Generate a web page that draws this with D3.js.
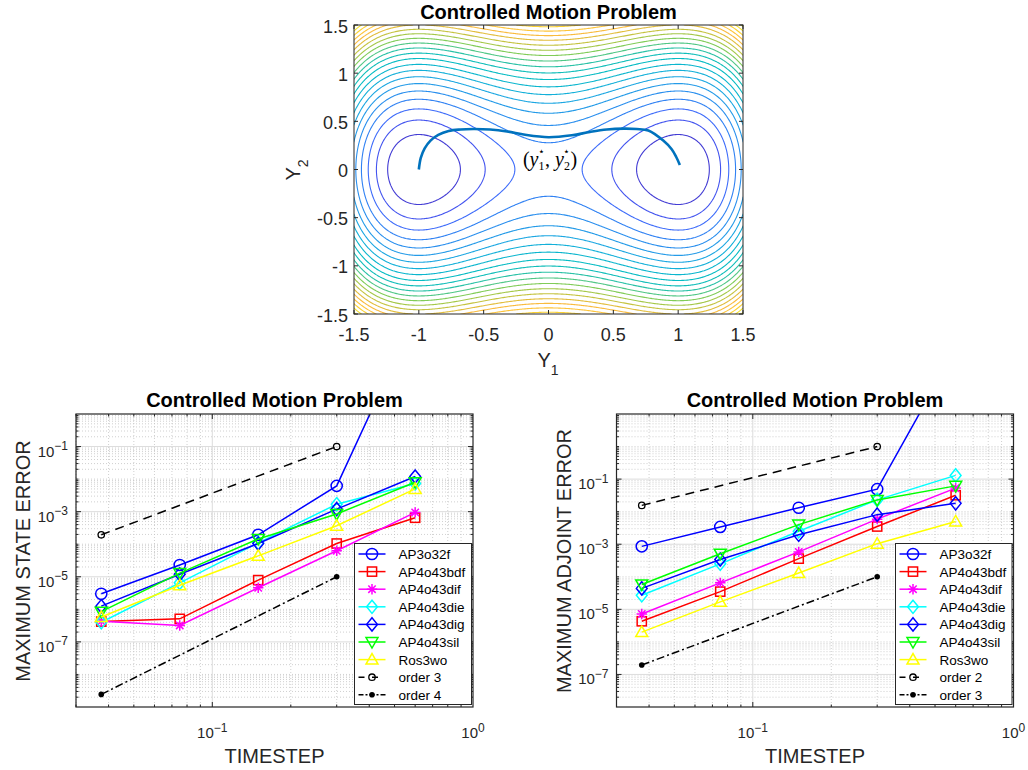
<!DOCTYPE html>
<html>
<head>
<meta charset="utf-8">
<script src="https://cdn.jsdelivr.net/npm/d3@7"></script>
<style>
body { margin: 0; background: #fff; }
svg { font-family: "Liberation Sans", Arial, Helvetica, sans-serif; }
</style>
</head>
<body>
<script>
// ---------- data ----------
// top panel: phase plane
var phaseTicks = [-1.5, -1, -0.5, 0, 0.5, 1, 1.5];
var phaseTickLabels = ['-1.5', '-1', '-0.5', '0', '0.5', '1', '1.5'];
var contourLevels = [0.29, 0.58, 0.87, 1.17, 1.46, 1.75, 2.04, 2.33, 2.62, 2.92, 3.21,
  3.5, 3.79, 4.08, 4.37, 4.66, 4.96, 5.25, 5.54, 5.83, 6.12, 6.41];
var pathY1 = [-1.0, -0.985, -0.955, -0.91, -0.85, -0.77, -0.68, -0.58, -0.45, -0.32, -0.18, 0.0,
  0.18, 0.32, 0.45, 0.58, 0.68, 0.77, 0.885, 0.95, 0.985, 1.013];
var pathY2 = [0.0, 0.12, 0.22, 0.30, 0.36, 0.40, 0.415, 0.42, 0.415, 0.395, 0.36, 0.335,
  0.355, 0.39, 0.415, 0.424, 0.42, 0.405, 0.30, 0.21, 0.13, 0.047];
// parula colour stops, evenly spaced from 0 to 1
var parula = ['#3e26a8', '#4545e6', '#4068fb', '#2f86f2', '#2796eb', '#1ca7e2', '#0fb3d5', '#05bbc6',
  '#12beb9', '#3cc59b', '#80cc59', '#b2c743', '#dcbd3c', '#fcbb3e', '#fdca38', '#f3e02a', '#f9fb14'];

// bottom panels: convergence
var timesteps = [0.0375, 0.075, 0.15, 0.3, 0.6];
var orderSteps = [0.0375, 0.3];
var methodNames = ['AP3o32f', 'AP4o43bdf', 'AP4o43dif', 'AP4o43die', 'AP4o43dig', 'AP4o43sil', 'Ros3wo'];
var methodColors = ['#0000ff', '#ff0000', '#ff00ff', '#00ffff', '#0000ff', '#00ff00', '#ffff00'];
var methodMarkers = ['o', 's', '*', 'd', 'd', 'v', '^'];

var stateErr = [
  [3.0e-6, 2.3e-5, 1.95e-4, 6.2e-3, 1e3],
  [4.2e-7, 5.1e-7, 7.9e-6, 1.05e-4, 6.5e-4],
  [4.3e-7, 3.2e-7, 4.6e-6, 6.3e-5, 9.5e-4],
  [4.0e-7, 6.5e-6, 1.1e-4, 1.7e-3, 7.3e-3],
  [1.25e-6, 1.2e-5, 1.05e-4, 1.2e-3, 1.2e-2],
  [8.5e-7, 1.3e-5, 1.45e-4, 8.5e-4, 8.0e-3],
  [5.8e-7, 5.5e-6, 4.4e-5, 3.7e-4, 5.0e-3]
];
var stateOrderA = [1.95e-4, 1e-1];   // order 3
var stateOrderB = [2.44e-9, 1e-5];   // order 4

var adjointErr = [
  [8.6e-4, 3.4e-3, 1.32e-2, 4.9e-2, 1e3],
  [4.3e-6, 3.5e-5, 3.6e-4, 3.5e-3, 3.2e-2],
  [7.2e-6, 6.5e-5, 5.8e-4, 5.9e-3, 5.3e-2],
  [2.7e-5, 2.5e-4, 2.5e-3, 2.3e-2, 1.3e-1],
  [4.4e-5, 3.4e-4, 1.95e-3, 8.1e-3, 1.8e-2],
  [5.8e-5, 5.1e-4, 4.0e-3, 2.3e-2, 6.2e-2],
  [2.0e-6, 1.7e-5, 1.3e-4, 1.04e-3, 5.0e-3]
];
var adjointOrderA = [1.56e-2, 1];    // order 2
var adjointOrderB = [1.95e-7, 1e-4]; // order 3

var errTickExps = [-1, -3, -5, -7];
var stepTickExps = [-1, 0];

// ---------- page ----------
var axisColor = '#262626';
var svg = d3.select('body').append('svg').attr('width', 1028).attr('height', 770);
var defs = svg.append('defs');

function addClip(id, x, y, w, h) {
  defs.append('clipPath').attr('id', id).append('rect')
    .attr('x', x).attr('y', y).attr('width', w).attr('height', h);
}

// ---------- top panel ----------
var px = d3.scaleLinear().domain([-1.5, 1.5]).range([354, 743]);
var py = d3.scaleLinear().domain([-1.5, 1.5]).range([314, 25]);
addClip('clipTop', 354, 25, 389, 289);

// energy of the motion in the double well
var n = 301;
var field = new Array(n * n);
for (var j = 0; j < n; j++) {
  for (var i = 0; i < n; i++) {
    var a = -1.5 + 3 * i / (n - 1), b = -1.5 + 3 * j / (n - 1);
    field[i + j * n] = (a * a - 1) * (a * a - 1) + 2.2 * b * b;
  }
}
var fieldMax = d3.max(field);
var colorOf = d3.scaleLinear().domain(parula.map(function(c, k) { return k / (parula.length - 1) * fieldMax; }))
  .range(parula).clamp(true);

var gridToPx = d3.geoTransform({
  point: function(gx, gy) {
    this.stream.point(px(-1.5 + (gx - 0.5) * 3 / (n - 1)), py(-1.5 + (gy - 0.5) * 3 / (n - 1)));
  }
});
var contours = d3.contours().size([n, n]).thresholds(contourLevels)(field);

var gTop = svg.append('g');
gTop.append('g').attr('clip-path', 'url(#clipTop)')
  .selectAll('path').data(contours).enter().append('path')
  .attr('d', d3.geoPath(gridToPx))
  .attr('fill', 'none')
  .attr('stroke', function(d) { return colorOf(d.value); })
  .attr('stroke-width', 1.1);

gTop.append('path')
  .datum(d3.range(pathY1.length))
  .attr('d', d3.line().curve(d3.curveCatmullRom)
    .x(function(k) { return px(pathY1[k]); })
    .y(function(k) { return py(pathY2[k]); }))
  .attr('fill', 'none').attr('stroke', '#0072bd').attr('stroke-width', 2.6);

// (y1*, y2*) label
var lab = gTop.append('text').attr('x', 550).attr('y', 166).attr('text-anchor', 'middle')
  .style('font-family', '"Liberation Serif", "DejaVu Serif", serif').style('font-size', '20px').attr('fill', '#000');
lab.append('tspan').text('(');
lab.append('tspan').style('font-style', 'italic').text('y');
lab.append('tspan').attr('dy', 4).style('font-size', '12px').text('1');
lab.append('tspan').attr('dx', -6.5).attr('dy', -15).style('font-size', '11px').text('⋆');
lab.append('tspan').attr('dy', 11).text(', ');
lab.append('tspan').style('font-style', 'italic').text('y');
lab.append('tspan').attr('dy', 4).style('font-size', '12px').text('2');
lab.append('tspan').attr('dx', -6.5).attr('dy', -15).style('font-size', '11px').text('⋆');
lab.append('tspan').attr('dy', 11).text(')');

// frame and ticks
gTop.append('rect').attr('x', 354).attr('y', 25).attr('width', 389).attr('height', 289)
  .attr('fill', 'none').attr('stroke', axisColor).attr('stroke-width', 1);
phaseTicks.forEach(function(t, k) {
  gTop.append('line').attr('x1', px(t)).attr('x2', px(t)).attr('y1', 314).attr('y2', 310).attr('stroke', axisColor);
  gTop.append('line').attr('x1', px(t)).attr('x2', px(t)).attr('y1', 25).attr('y2', 29).attr('stroke', axisColor);
  gTop.append('line').attr('y1', py(t)).attr('y2', py(t)).attr('x1', 354).attr('x2', 358).attr('stroke', axisColor);
  gTop.append('line').attr('y1', py(t)).attr('y2', py(t)).attr('x1', 743).attr('x2', 739).attr('stroke', axisColor);
  gTop.append('text').attr('x', px(t)).attr('y', 341).attr('text-anchor', 'middle')
    .style('font-size', '18px').attr('fill', axisColor).text(phaseTickLabels[k]);
  gTop.append('text').attr('x', 348).attr('y', py(t) + 7.5).attr('text-anchor', 'end')
    .style('font-size', '18px').attr('fill', axisColor).text(phaseTickLabels[k]);
});
gTop.append('text').attr('x', 548.5).attr('y', 19).attr('text-anchor', 'middle')
  .style('font-size', '20px').style('font-weight', 'bold').attr('fill', '#000').text('Controlled Motion Problem');
var xl = gTop.append('text').attr('x', 548).attr('y', 367).attr('text-anchor', 'middle')
  .style('font-size', '20px').attr('fill', axisColor);
xl.append('tspan').text('Y');
xl.append('tspan').attr('dy', 8).style('font-size', '14px').text('1');
var yl = gTop.append('text').attr('transform', 'translate(300,170) rotate(-90)').attr('text-anchor', 'middle')
  .style('font-size', '20px').attr('fill', axisColor);
yl.append('tspan').text('Y');
yl.append('tspan').attr('dy', 8).style('font-size', '14px').text('2');

// ---------- bottom panels ----------
function drawMarker(g, type, cx, cy, color) {
  var sw = 1.5;
  if (type === 'o') {
    g.append('circle').attr('cx', cx).attr('cy', cy).attr('r', 5.6)
      .attr('fill', 'none').attr('stroke', color).attr('stroke-width', sw);
  } else if (type === 's') {
    g.append('rect').attr('x', cx - 4.6).attr('y', cy - 4.6).attr('width', 9.2).attr('height', 9.2)
      .attr('fill', 'none').attr('stroke', color).attr('stroke-width', sw);
  } else if (type === '*') {
    var r = 5.2, q = 3.7;
    g.append('path').attr('d', 'M' + (cx - r) + ',' + cy + 'H' + (cx + r) + 'M' + cx + ',' + (cy - r) + 'V' + (cy + r) +
      'M' + (cx - q) + ',' + (cy - q) + 'L' + (cx + q) + ',' + (cy + q) + 'M' + (cx - q) + ',' + (cy + q) + 'L' + (cx + q) + ',' + (cy - q))
      .attr('stroke', color).attr('stroke-width', sw).attr('fill', 'none');
  } else if (type === 'd') {
    g.append('path').attr('d', 'M' + cx + ',' + (cy - 6.6) + 'L' + (cx + 5.4) + ',' + cy + 'L' + cx + ',' + (cy + 6.6) + 'L' + (cx - 5.4) + ',' + cy + 'Z')
      .attr('fill', 'none').attr('stroke', color).attr('stroke-width', sw);
  } else if (type === 'v') {
    g.append('path').attr('d', 'M' + (cx - 6) + ',' + (cy - 4.5) + 'L' + (cx + 6) + ',' + (cy - 4.5) + 'L' + cx + ',' + (cy + 6) + 'Z')
      .attr('fill', 'none').attr('stroke', color).attr('stroke-width', sw);
  } else if (type === '^') {
    g.append('path').attr('d', 'M' + (cx - 6) + ',' + (cy + 4.5) + 'L' + (cx + 6) + ',' + (cy + 4.5) + 'L' + cx + ',' + (cy - 6) + 'Z')
      .attr('fill', 'none').attr('stroke', color).attr('stroke-width', sw);
  } else if (type === 'small') {
    g.append('circle').attr('cx', cx).attr('cy', cy).attr('r', 3.2)
      .attr('fill', 'none').attr('stroke', color).attr('stroke-width', 1.3);
  } else if (type === 'dot') {
    g.append('circle').attr('cx', cx).attr('cy', cy).attr('r', 2.8).attr('fill', color);
  }
}

function powLabel(sel, exp) {
  sel.append('tspan').text('10');
  sel.append('tspan').attr('dy', -6.5).style('font-size', '12px').text(String(exp).replace('-', '\u2212'));
}

function errorPlot(o) {
  var L = o.left, R = o.left + 397, T = 414, B = 707;
  var x = d3.scaleLog().domain([0.03, 1]).range([L, R]);
  var y = d3.scaleLog().domain(o.yDomain).range([B, T]);
  var g = svg.append('g');
  addClip(o.clip, L, T, R - L, B - T);

  // minor grid
  var xMinor = [], yMinor = [];
  [-2, -1].forEach(function(e) { for (var m = 1; m <= 9; m++) { var v = m * Math.pow(10, e); if (v >= 0.03 && v < 1 && Math.abs(v - 0.1) > 1e-9) xMinor.push(v); } });
  var e0 = Math.round(Math.log10(o.yDomain[0])), e1 = Math.round(Math.log10(o.yDomain[1]));
  for (var e = e0; e < e1; e++) {
    for (var m = 1; m <= 9; m++) {
      if (m === 1 && (e === e0 || errTickExps.indexOf(e) >= 0)) continue;
      yMinor.push(m * Math.pow(10, e));
    }
  }
  var gg = g.append('g');
  xMinor.forEach(function(v) {
    gg.append('line').attr('x1', x(v)).attr('x2', x(v)).attr('y1', T).attr('y2', B)
      .attr('stroke', '#c4c4c4').attr('stroke-width', 0.8).attr('stroke-dasharray', '1,2');
  });
  yMinor.forEach(function(v) {
    gg.append('line').attr('y1', y(v)).attr('y2', y(v)).attr('x1', L).attr('x2', R)
      .attr('stroke', '#c4c4c4').attr('stroke-width', 0.8).attr('stroke-dasharray', '1,2');
  });
  // major grid
  gg.append('line').attr('x1', x(0.1)).attr('x2', x(0.1)).attr('y1', T).attr('y2', B).attr('stroke', '#dcdcdc').attr('stroke-width', 1);
  errTickExps.forEach(function(e) {
    gg.append('line').attr('y1', y(Math.pow(10, e))).attr('y2', y(Math.pow(10, e))).attr('x1', L).attr('x2', R)
      .attr('stroke', '#dcdcdc').attr('stroke-width', 1);
  });

  // data
  var gd = g.append('g').attr('clip-path', 'url(#' + o.clip + ')');
  var line = d3.line().x(function(d) { return x(d[0]); }).y(function(d) { return y(d[1]); });
  o.series.forEach(function(vals, k) {
    var pts = timesteps.map(function(t, i) { return [t, vals[i]]; });
    gd.append('path').datum(pts).attr('d', line).attr('fill', 'none')
      .attr('stroke', methodColors[k]).attr('stroke-width', 1.5);
    pts.forEach(function(p) { drawMarker(gd, methodMarkers[k], x(p[0]), y(p[1]), methodColors[k]); });
  });
  var refA = orderSteps.map(function(t, i) { return [t, o.refA[i]]; });
  var refB = orderSteps.map(function(t, i) { return [t, o.refB[i]]; });
  gd.append('path').datum(refA).attr('d', line).attr('fill', 'none').attr('stroke', '#000')
    .attr('stroke-width', 1.5).attr('stroke-dasharray', '9,6');
  refA.forEach(function(p) { drawMarker(gd, 'small', x(p[0]), y(p[1]), '#000'); });
  gd.append('path').datum(refB).attr('d', line).attr('fill', 'none').attr('stroke', '#000')
    .attr('stroke-width', 1.5).attr('stroke-dasharray', '8,3,2,3');
  refB.forEach(function(p) { drawMarker(gd, 'dot', x(p[0]), y(p[1]), '#000'); });

  // frame and ticks
  var ga = g.append('g').attr('stroke', axisColor);
  ga.append('rect').attr('x', L).attr('y', T).attr('width', R - L).attr('height', B - T)
    .attr('fill', 'none').attr('stroke-width', 1.2);
  xMinor.forEach(function(v) {
    ga.append('line').attr('x1', x(v)).attr('x2', x(v)).attr('y1', B).attr('y2', B - 2.5);
    ga.append('line').attr('x1', x(v)).attr('x2', x(v)).attr('y1', T).attr('y2', T + 2.5);
  });
  ga.append('line').attr('x1', x(0.1)).attr('x2', x(0.1)).attr('y1', B).attr('y2', B - 5);
  ga.append('line').attr('x1', x(0.1)).attr('x2', x(0.1)).attr('y1', T).attr('y2', T + 5);
  yMinor.forEach(function(v) {
    ga.append('line').attr('y1', y(v)).attr('y2', y(v)).attr('x1', L).attr('x2', L + 2.5);
    ga.append('line').attr('y1', y(v)).attr('y2', y(v)).attr('x1', R).attr('x2', R - 2.5);
  });
  errTickExps.forEach(function(e) {
    var yy = y(Math.pow(10, e));
    ga.append('line').attr('y1', yy).attr('y2', yy).attr('x1', L).attr('x2', L + 5);
    ga.append('line').attr('y1', yy).attr('y2', yy).attr('x1', R).attr('x2', R - 5);
    powLabel(g.append('text').attr('x', L - 8).attr('y', yy + 10).attr('text-anchor', 'end')
      .style('font-size', '15px').attr('fill', axisColor), e);
  });
  stepTickExps.forEach(function(e) {
    powLabel(g.append('text').attr('x', x(Math.pow(10, e))).attr('y', 738).attr('text-anchor', 'middle')
      .style('font-size', '15px').attr('fill', axisColor), e);
  });

  // labels
  g.append('text').attr('x', (L + R) / 2).attr('y', 407).attr('text-anchor', 'middle')
    .style('font-size', '20px').style('font-weight', 'bold').attr('fill', '#000').text('Controlled Motion Problem');
  g.append('text').attr('x', (L + R) / 2).attr('y', 763).attr('text-anchor', 'middle')
    .style('font-size', '20px').attr('fill', axisColor).text('TIMESTEP');
  g.append('text').attr('transform', 'translate(' + (L - 46) + ',561) rotate(-90)').attr('text-anchor', 'middle')
    .style('font-size', '20px').attr('fill', axisColor).text(o.ylabel);

  // legend
  var lx = o.legendX, lw = R - 1.5 - lx;
  var gl = g.append('g');
  gl.append('rect').attr('x', lx).attr('y', 543.5).attr('width', lw).attr('height', 161)
    .attr('fill', '#fff').attr('stroke', axisColor).attr('stroke-width', 1);
  var names = methodNames.concat(o.refNames);
  names.forEach(function(name, k) {
    var ry = 554 + k * 17.6;
    var x0 = lx + 4, x1 = lx + 31, xm = (x0 + x1) / 2;
    var ln = gl.append('line').attr('x1', x0).attr('x2', x1).attr('y1', ry).attr('y2', ry).attr('stroke-width', 1.5);
    if (k < methodNames.length) {
      ln.attr('stroke', methodColors[k]);
      drawMarker(gl, methodMarkers[k], xm, ry, methodColors[k]);
    } else if (k === methodNames.length) {
      ln.attr('stroke', '#000').attr('stroke-dasharray', '6,7.5');
      drawMarker(gl, 'small', xm, ry, '#000');
    } else {
      ln.attr('stroke', '#000').attr('stroke-dasharray', '5,2,2,2');
      drawMarker(gl, 'dot', xm, ry, '#000');
    }
    gl.append('text').attr('x', lx + 44).attr('y', ry + 5).style('font-size', '13.5px')
      .attr('fill', '#000').text(name);
  });
}

errorPlot({
  left: 76, yDomain: [1e-9, 1], clip: 'clipL', series: stateErr,
  refA: stateOrderA, refB: stateOrderB, refNames: ['order 3', 'order 4'],
  ylabel: 'MAXIMUM STATE ERROR', legendX: 354.5
});
errorPlot({
  left: 616.5, yDomain: [1e-8, 10], clip: 'clipR', series: adjointErr,
  refA: adjointOrderA, refB: adjointOrderB, refNames: ['order 2', 'order 3'],
  ylabel: 'MAXIMUM ADJOINT ERROR', legendX: 895.5
});
</script>
</body>
</html>
